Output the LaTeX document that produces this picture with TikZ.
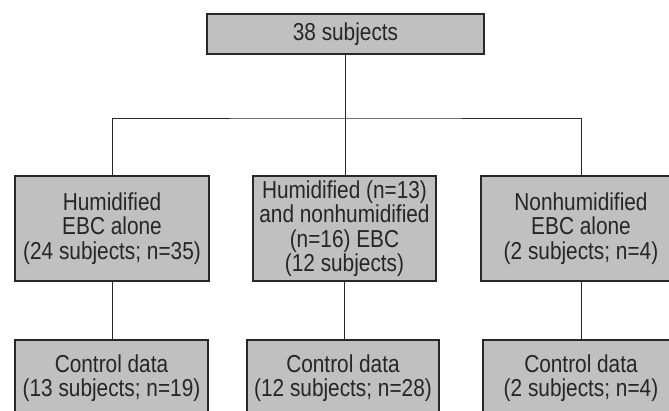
\documentclass[tikz,border=0pt]{standalone}
\usepackage{fontspec}
\setmainfont{Liberation Sans}[FakeStretch=0.85]
\definecolor{boxgray}{RGB}{192,192,192}
\definecolor{edgegray}{RGB}{40,40,40}
\begin{document}
\begin{tikzpicture}[x=1pt,y=-1pt,
  box/.style={draw=edgegray, fill=boxgray, line width=1.2pt, inner sep=0pt, align=center,
    font=\fontsize{24.5}{24.5}\selectfont, text=black!85},
  link/.style={draw=edgegray, line width=1pt}]
\useasboundingbox (0,0) rectangle (669,410);
\clip (0,0) rectangle (669,410);
\node[box, minimum width=277pt, minimum height=40pt] (top) at (345.5,34) {38 subjects};
\node[box, minimum width=194pt, minimum height=105pt] (m1) at (112,228.5) {Humidified\\EBC alone\\(24 subjects; n=35)};
\node[box, minimum width=183pt, minimum height=105pt] (m2) at (344.5,228.5) {Humidified (n=13)\\and nonhumidified\\(n=16) EBC\\(12 subjects)};
\node[box, minimum width=200pt, minimum height=105pt] (m3) at (581,228.5) {Nonhumidified\\EBC alone\\(2 subjects; n=4)};
\node[box, minimum width=193pt, minimum height=76pt] (b1) at (111.5,378) {Control data\\(13 subjects; n=19)};
\node[box, minimum width=192pt, minimum height=76pt] (b2) at (343,378) {Control data\\(12 subjects; n=28)};
\node[box, minimum width=196pt, minimum height=76pt] (b3) at (581,378) {Control data\\(2 subjects; n=4)};
\coordinate (hub) at (345,118);
\draw[link] (top.south) -- (top.south |- hub);
\draw[link] (m1.north) |- (hub) -| (m3.north);
\draw[link] (hub) -- (hub |- m2.north);
\draw[link] (m1.south) -- (m1.south |- b1.north);
\draw[link] (m2.south) -- (m2.south |- b2.north);
\draw[link] (m3.south) -- (m3.south |- b3.north);
\end{tikzpicture}
\end{document}
